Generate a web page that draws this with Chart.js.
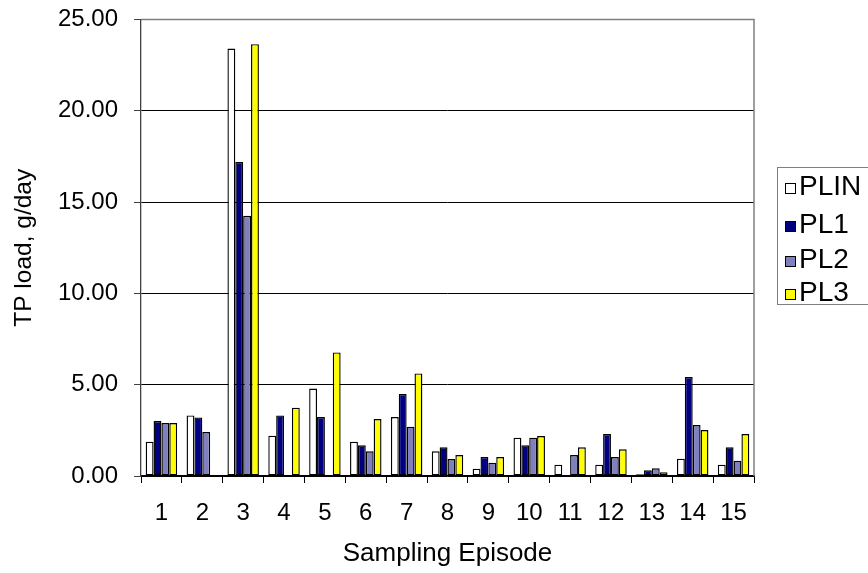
<!DOCTYPE html>
<html>
<head>
<meta charset="utf-8">
<script src="https://cdn.jsdelivr.net/npm/chart.js@4/dist/chart.umd.min.js"></script>
<style>
  html, body { margin: 0; padding: 0; background: #fff; overflow: hidden; }
  #wrap { position: relative; width: 868px; height: 573px; }
  canvas { display: block; }
  #legend {
    position: absolute; left: 777px; top: 167px; width: 120px; height: 138px;
    border: 1px solid #808080; box-sizing: border-box; background: #fff;
    font-family: "Liberation Sans", Arial, sans-serif; font-size: 28px; color: #000;
  }
  .item { position: absolute; left: 7px; height: 32px; display: flex; align-items: center; white-space: nowrap; }
  .sw { width: 11px; height: 11px; border: 1px solid #000; box-sizing: border-box; margin-right: 3px; margin-top: 4px; }
</style>
</head>
<body>
<div id="wrap">
  <canvas id="c" width="868" height="573"></canvas>
  <div id="legend"></div>
</div>
<script>
// Sampling episodes on the x axis
const episodes = ['1','2','3','4','5','6','7','8','9','10','11','12','13','14','15'];

// TP load (g/day) per sampling location
const plin = [1.88, 3.32, 23.41, 2.21, 4.79, 1.88, 3.23, 1.35, 0.40, 2.10, 0.62, 0.62, 0.09, 0.95, 0.62];
const pl1  = [3.01, 3.21, 17.20, 3.32, 3.23, 1.68, 4.49, 1.57, 1.04, 1.68, null, 2.30, 0.31, 5.42, 1.57];
const pl2  = [2.90, 2.41, 14.25, null, null, 1.35, 2.70, 0.93, 0.73, 2.10, 1.15, 1.04, 0.42, 2.79, 0.84];
const pl3  = [2.90, null, 23.65, 3.74, 6.77, 3.12, 5.62, 1.15, 1.04, 2.19, 1.57, 1.46, 0.20, 2.52, 2.30];

const seriesNames = ['PLIN', 'PL1', 'PL2', 'PL3'];
const seriesColors = ['#FFFFFF', '#000080', '#8080C0', '#FFFF00'];
const seriesData = [plin, pl1, pl2, pl3];

// y axis range and step
const yMin = 0, yMax = 25, yStep = 5;

const FONT = '"Liberation Sans", Arial, sans-serif';

// Gray frame on the top and right of the plot area
const frame = {
  id: 'frame',
  beforeDatasetsDraw(chart) {
    const { ctx, chartArea: a } = chart;
    ctx.save();
    ctx.strokeStyle = '#808080';
    ctx.lineWidth = 1.5;
    ctx.beginPath();
    ctx.moveTo(a.left, a.top);
    ctx.lineTo(a.right, a.top);
    ctx.lineTo(a.right, a.bottom);
    ctx.stroke();
    ctx.restore();
  }
};

const chart = new Chart(document.getElementById('c'), {
  type: 'bar',
  data: {
    labels: episodes,
    datasets: seriesNames.map((name, i) => ({
      label: name,
      data: seriesData[i],
      backgroundColor: seriesColors[i],
      borderColor: '#000000',
      borderWidth: 1.4,
      borderSkipped: false,
      categoryPercentage: 0.77,
      barPercentage: 1.0
    }))
  },
  options: {
    responsive: false,
    animation: false,
    devicePixelRatio: 1,
    layout: { padding: { left: 0, right: 114, top: 19.5, bottom: 0 } },
    plugins: { legend: { display: false }, tooltip: { enabled: false } },
    scales: {
      x: {
        offset: true,
        grid: { display: true, drawOnChartArea: false, drawTicks: true, tickLength: 7, offset: true, color: '#000', lineWidth: 1 },
        border: { display: true, color: '#000', width: 1.3 },
        ticks: { color: '#000', font: { family: FONT, size: 24 }, padding: 16, maxRotation: 0, autoSkip: false },
        title: { display: true, text: 'Sampling Episode', color: '#000', font: { family: FONT, size: 26 }, padding: { top: 0, bottom: 4 } },
        afterFit(scale) { scale.height = 97; }
      },
      y: {
        min: yMin, max: yMax,
        grid: {
          color: ctx => (ctx.tick && ctx.tick.value === yMax) ? '#808080' : '#000',
          lineWidth: 1, tickLength: 7, tickColor: '#404040'
        },
        border: { display: true, color: '#404040', width: 1.3 },
        ticks: {
          stepSize: yStep, color: '#000', padding: 16,
          font: { family: FONT, size: 24 },
          callback: v => Number(v).toFixed(2)
        },
        title: { display: true, text: 'TP load, g/day', color: '#000', font: { family: FONT, size: 24.5 }, padding: { top: 10, bottom: 0 } },
        afterFit(scale) {
          scale.width = 141;
          scale.paddingTop = 0;
          scale.paddingBottom = 0;
        }
      }
    }
  },
  plugins: [frame]
});

// Legend built from the same series definitions
const legend = document.getElementById('legend');
const centers = [18, 56, 91, 124];
seriesNames.forEach((name, i) => {
  const item = document.createElement('div');
  item.className = 'item';
  item.style.top = (centers[i] - 16) + 'px';
  const sw = document.createElement('span');
  sw.className = 'sw';
  sw.style.background = seriesColors[i];
  const tx = document.createElement('span');
  tx.textContent = name;
  item.appendChild(sw);
  item.appendChild(tx);
  legend.appendChild(item);
});
</script>
</body>
</html>
